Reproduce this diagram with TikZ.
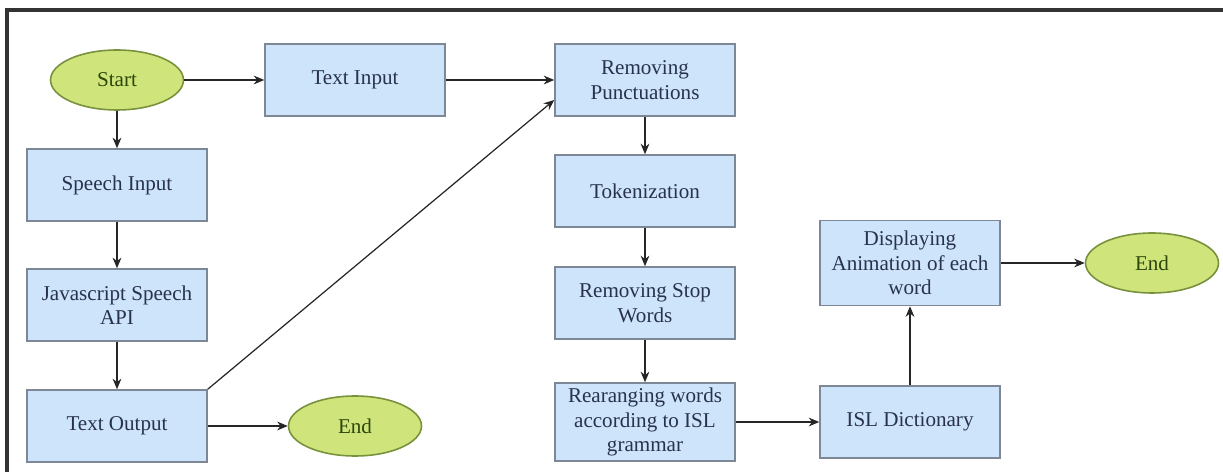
\documentclass[tikz,border=0pt]{standalone}
\usepackage{fontspec}
\setmainfont{Liberation Serif}
\usepackage{tikz}
\usetikzlibrary{positioning,arrows.meta,shapes.geometric}
\usepackage{xcolor}

\definecolor{boxfill}{RGB}{205,228,250}
\definecolor{boxline}{RGB}{125,135,150}
\definecolor{boxtext}{RGB}{40,50,75}
\definecolor{termfill}{RGB}{207,228,122}
\definecolor{termline}{RGB}{120,145,60}
\definecolor{termtext}{RGB}{45,70,10}

\tikzset{
  procbox/.style={draw=boxline, fill=boxfill, text=boxtext, line width=0.9pt,
    minimum width=3.6cm, minimum height=1.44cm, align=center, inner sep=2pt},
  termnode/.style={ellipse, draw=termline, fill=termfill, text=termtext, line width=0.9pt,
    minimum width=2.66cm, minimum height=1.2cm},
  flow/.style={-{Stealth[length=6pt,width=5pt]}, line width=0.7pt, draw=black!85}
}

\begin{document}
\begin{tikzpicture}[x=0.02cm, y=-0.02cm, font=\rmfamily\fontsize{12}{14}\selectfont]
  % canvas and frame
  \useasboundingbox (0,0) rectangle (1223,472);
  \draw[line width=1.8pt, black!80] (7,472) -- (7,10) -- (1223,10);

  % Speech branch (left column)
  \node[termnode] (start) at (117,80) {Start};
  \node[procbox] (speech) at (117,185) {Speech Input};
  \node[procbox] (jsapi) at (117,305) {Javascript Speech\\API};
  \node[procbox] (textout) at (117,426) {Text Output};
  \node[termnode] (endA) at (355,426) {End};

  % Text branch
  \node[procbox] (textin) at (355,80) {Text Input};

  % Processing (middle column)
  \node[procbox] (punct) at (645,80) {Removing\\Punctuations};
  \node[procbox] (token) at (645,191) {Tokenization};
  \node[procbox] (stopw) at (645,303) {Removing Stop\\Words};
  \node[procbox, minimum height=1.56cm] (rearr) at (645,422) {Rearanging words\\according to ISL\\grammar};

  % Output (right)
  \node[procbox] (isldict) at (910,422) {ISL Dictionary};
  \node[procbox, minimum height=1.7cm] (anim) at (910,263) {Displaying\\Animation of each\\word};
  \node[termnode] (endB) at (1152,263) {End};

  % Connectors
  \draw[flow] (start) -- (textin);
  \draw[flow] (start) -- (speech);
  \draw[flow] (speech) -- (jsapi);
  \draw[flow] (jsapi) -- (textout);
  \draw[flow] (textout) -- (endA);
  \draw[flow] (textout.north east) -- ([yshift=-0.4cm]punct.west);
  \draw[flow] (textin) -- (punct);
  \draw[flow] (punct) -- (token);
  \draw[flow] (token) -- (stopw);
  \draw[flow] (stopw) -- (rearr);
  \draw[flow] (rearr) -- (isldict);
  \draw[flow] (isldict) -- (anim);
  \draw[flow] (anim) -- (endB);
\end{tikzpicture}
\end{document}
